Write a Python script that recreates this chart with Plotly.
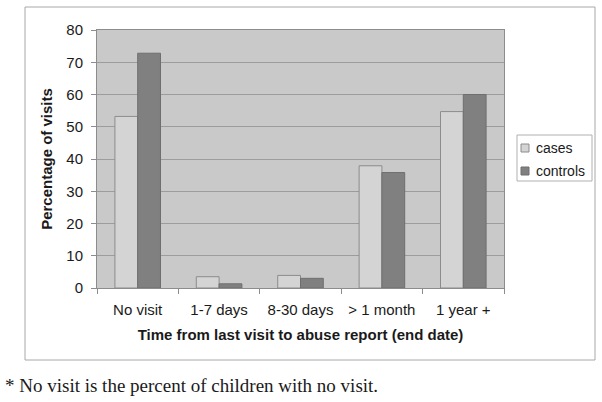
import plotly.graph_objects as go

categories = ["No visit", "1-7 days", "8-30 days", "> 1 month", "1 year +"]
cases = [53.2, 3.5, 3.9, 37.9, 54.7]
controls = [72.8, 1.3, 3.0, 35.8, 60.0]
y_ticks = [0, 10, 20, 30, 40, 50, 60, 70, 80]
series_names = ["cases", "controls"]
series_colors = ["#d4d4d4", "#808080"]
series_lines = ["#8c8c8c", "#6e6e6e"]

fig = go.Figure()
for name, vals, col, lc in zip(series_names, [cases, controls], series_colors, series_lines):
    fig.add_trace(go.Bar(name=name, x=categories, y=vals, showlegend=False,
                         marker=dict(color=col, line=dict(color=lc, width=1))))

# plot area geometry (pixels)
L, R, T, B = 97, 504, 30, 288
W, H = R - L, B - T
def px(x): return (x - L) / W
def py(y): return (B - y) / H

shapes = [
    dict(type="rect", xref="paper", yref="paper",
         x0=px(25), x1=px(595), y0=py(360), y1=py(7),
         line=dict(color="#a8a8a8", width=1), fillcolor="rgba(0,0,0,0)", layer="below"),
    dict(type="rect", xref="paper", yref="paper",
         x0=px(517), x1=px(592), y0=py(181), y1=py(135),
         line=dict(color="#b0b0b0", width=1), fillcolor="white"),
]
annotations = [dict(text="* No visit is the percent of children with no visit.",
                    xref="paper", yref="paper", x=px(3), y=py(385),
                    xanchor="left", yanchor="middle", showarrow=False,
                    font=dict(family="Liberation Serif, Times New Roman, serif", size=19, color="#1a1a1a"))]
for i, (name, col, lc) in enumerate(zip(series_names, series_colors, series_lines)):
    cy = 148 + i * 23
    shapes.append(dict(type="rect", xref="paper", yref="paper",
                       x0=px(521), x1=px(529), y0=py(cy + 4), y1=py(cy - 4),
                       line=dict(color=lc, width=1), fillcolor=col))
    annotations.append(dict(text=name, xref="paper", yref="paper", x=px(534), y=py(cy),
                            xanchor="left", yanchor="middle", showarrow=False,
                            font=dict(size=14, color="#1a1a1a")))

fig.update_layout(
    width=602, height=402,
    margin=dict(l=L, r=602 - R, t=T, b=402 - B, autoexpand=False),
    paper_bgcolor="white",
    plot_bgcolor="#c9c9c9",
    barmode="group",
    bargap=0.44, bargroupgap=0,
    font=dict(family="Liberation Sans, Arial, sans-serif", size=15, color="#1a1a1a"),
    showlegend=False,
    xaxis=dict(
        title=dict(text="<b>Time from last visit to abuse report (end date)</b>",
                   font=dict(size=15), standoff=12),
        showline=True, linecolor="#8c8c8c", linewidth=1, mirror=True,
        ticks="outside", ticklen=5, tickcolor="#8c8c8c", tickson="boundaries",
        showgrid=False, tickfont=dict(size=15), ticklabelstandoff=8,
    ),
    yaxis=dict(
        title=dict(text="<b>Percentage of visits</b>", font=dict(size=15), standoff=10),
        range=[0, 80], tickvals=y_ticks, tickfont=dict(size=15), ticklabelstandoff=5,
        showline=True, linecolor="#8c8c8c", linewidth=1, mirror=True,
        ticks="outside", ticklen=5, tickcolor="#8c8c8c",
        showgrid=True, gridcolor="#9c9c9c", gridwidth=1,
        zeroline=False,
    ),
    shapes=shapes,
    annotations=annotations,
)

fig.write_html("out.html", config={"displayModeBar": False},
               post_script="document.body.style.margin='0';document.body.style.overflow='hidden';")
